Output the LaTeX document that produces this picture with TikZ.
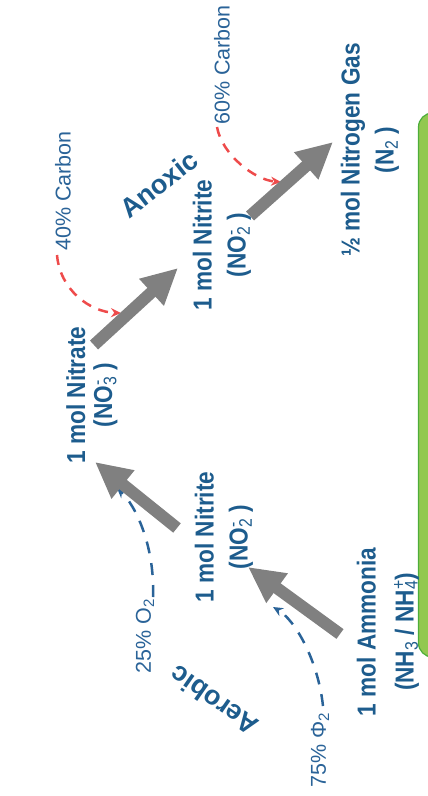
\documentclass[tikz,border=0pt]{standalone}
\usepackage{fontspec}
\setmainfont{Liberation Sans}
\newfontfamily\speciesfont[FakeStretch=0.87]{Liberation Sans}
\usetikzlibrary{arrows.meta}
\definecolor{mainblue}{HTML}{1D5C8D}
\definecolor{lblblue}{HTML}{2A6398}
\definecolor{redc}{HTML}{EE4B4B}
\definecolor{grayc}{HTML}{808080}
\definecolor{greenfill}{HTML}{92C850}
\definecolor{greenline}{HTML}{4DAE3A}
\newcommand\chemss[2]{\rlap{\textsuperscript{\mdseries #2}}\textsubscript{\mdseries #1}}
\begin{document}
\begin{tikzpicture}[x=1pt,y=-1pt,
 species/.style={font=\speciesfont\fontsize{26}{34}\selectfont\bfseries, text=mainblue, align=center, rotate=90, inner sep=0pt},
 pct/.style={font=\fontsize{21.5}{25}\selectfont, text=lblblue, rotate=90, inner sep=0pt},
 zone/.style={font=\fontsize{27}{30}\selectfont\bfseries, text=mainblue, inner sep=0pt},
 bigarrow/.style={draw=grayc, line width=12pt, -{Triangle[length=36pt,width=34pt]}},
 carbon/.style={draw=redc, line width=2.5pt, dash pattern=on 10pt off 8pt, -{Stealth[length=10pt,width=9pt]}},
 oxygen/.style={draw=lblblue, line width=2.5pt, dash pattern=on 12pt off 10pt, -{Stealth[length=10pt,width=9pt]}}]
\useasboundingbox (0,0) rectangle (428,796);
\begin{scope}
\clip (0,0) rectangle (428,796);
\filldraw[fill=greenfill, draw=greenline, line width=1.2pt, rounded corners=14pt] (418.5,113) rectangle (460,657);
\end{scope}

% species
\node[species] (nitrate) at (92,395) {1 mol Nitrate\\[-7pt](NO\chemss{3}{-} )};
\node[species] (nitriteA) at (222,245) {1 mol Nitrite\\(NO\chemss{2}{-} )};
\node[species] (nitrogen) at (370,150) {\textonehalf{} mol Nitrogen Gas\\(N\textsubscript{\mdseries 2} )};
\node[species] (nitriteB) at (224,537) {1 mol Nitrite\\(NO\chemss{2}{-} )};
\node[species] (ammonia) at (388,632) {1 mol Ammonia\\[4pt](NH\textsubscript{\mdseries 3} / NH\chemss{4}{+})};

% zones
\node[zone, rotate=38] (anoxic) at (159,184) {Anoxic};
\node[zone, rotate=145] (aerobic) at (214,701) {Aerobic};

% percentage labels
\node[pct] (c40) at (63,191) {40\% Carbon};
\node[pct] (c60) at (222,65) {60\% Carbon};
\node[pct] (o25) at (145,636) {25\% O\textsubscript{2}};
\node[pct] (o75) at (320,750) {75\% Φ\textsubscript{2}};

% connector end points
\coordinate (r1s) at (57,255);  \coordinate (r1e) at (121,313);
\coordinate (r2s) at (217,127); \coordinate (r2e) at (281,182);
\coordinate (b1s) at (153,597); \coordinate (b1e) at (117,488);
\coordinate (b2s) at (323,706); \coordinate (b2e) at (273,607);

\coordinate (g1s) at (94,345);  \coordinate (g1e) at (178,268);
\coordinate (g2s) at (250,216); \coordinate (g2e) at (333,142);
\coordinate (g3s) at (177,528); \coordinate (g3e) at (95,462);
\coordinate (g4s) at (340,634); \coordinate (g4e) at (248,567);

% dashed supply curves
\draw[carbon] (r1s) .. controls (60,290) and (90,312) .. (r1e);
\draw[carbon] (r2s) .. controls (222,155) and (255,180) .. (r2e);
\draw[oxygen] (b1s) .. controls (155,545) and (135,505) .. (b1e);
\draw[oxygen] (b2s) .. controls (318,660) and (295,620) .. (b2e);

% reaction arrows
\draw[bigarrow] (g1s) -- (g1e);
\draw[bigarrow] (g2s) -- (g2e);
\draw[bigarrow] (g3s) -- (g3e);
\draw[bigarrow] (g4s) -- (g4e);
\end{tikzpicture}
\end{document}
